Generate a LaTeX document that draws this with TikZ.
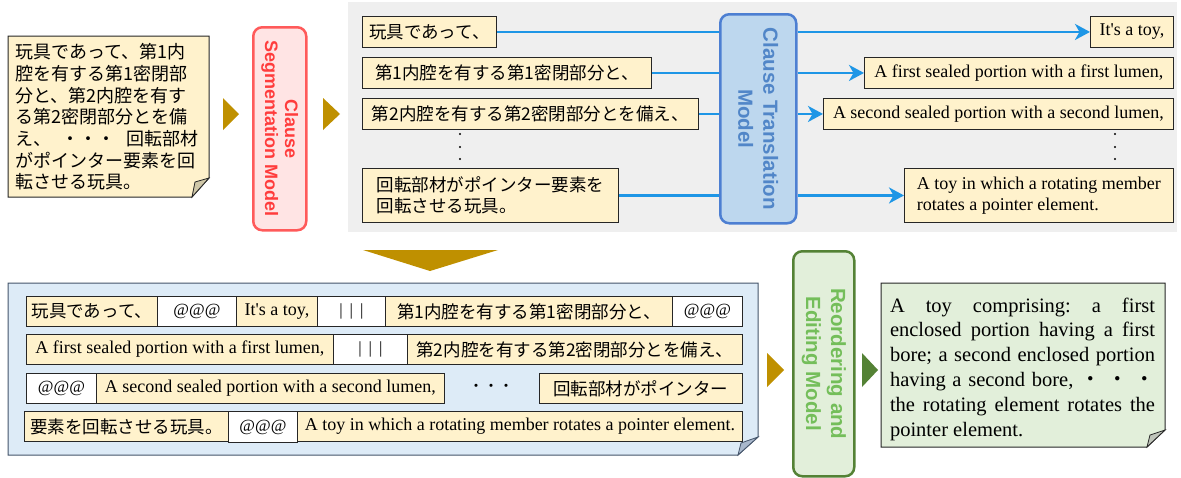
\documentclass[tikz,border=0pt]{standalone}
\usepackage{fontspec}
\setmainfont{Liberation Serif}
\newfontfamily\jpf{Noto Sans CJK JP}
\newfontfamily\sff{Liberation Sans}
\usetikzlibrary{arrows.meta}
\definecolor{beige}{HTML}{FFF2CC}
\definecolor{flapy}{HTML}{CFC7A8}
\definecolor{gold}{HTML}{BF9000}
\definecolor{bgg}{HTML}{EFEFEF}
\definecolor{redb}{HTML}{FF5A5A}
\definecolor{redf}{HTML}{FFE4E4}
\definecolor{redt}{HTML}{FF3C3C}
\definecolor{blub}{HTML}{4D7FD2}
\definecolor{bluf}{HTML}{BDD7EE}
\definecolor{blut}{HTML}{5186C8}
\definecolor{grnb}{HTML}{548235}
\definecolor{grnf}{HTML}{E2EFDA}
\definecolor{grnt}{HTML}{74BE5A}
\definecolor{flapg}{HTML}{BFC4BA}
\definecolor{panf}{HTML}{DDEBF7}
\definecolor{panb}{HTML}{44546A}
\definecolor{flapb}{HTML}{A9B8CC}
\definecolor{lineblue}{HTML}{1E96E6}
\tikzset{
  bx/.style={draw=black!85, line width=0.9pt, inner sep=0pt, anchor=north west, minimum height=31pt},
  yb/.style={bx, fill=beige},
  wb/.style={bx, fill=white},
  jt/.style={font=\jpf\fontsize{17.5}{21}\selectfont},
  et/.style={font=\fontsize{18}{21}\selectfont},
  attxt/.style={font=\fontsize{17}{21}\selectfont},
  mdl/.style={rounded corners=9pt, line width=2.5pt, anchor=north west, inner sep=0pt},
  lbl/.style={rotate=-90, align=center, inner sep=0pt},
  cl/.style={draw=lineblue, line width=2.6pt},
  cla/.style={cl, -{Stealth[length=15pt,width=16pt,inset=4.5pt]}},
  tri/.style={fill=gold},
}
\begin{document}
\frenchspacing
\begin{tikzpicture}[x=1pt,y=-1pt]
\useasboundingbox (0,0) rectangle (1181,477);
% grey background of the translation stage
\fill[bgg] (348,2) rectangle (1177,232);

% source note
\draw[fill=beige, draw=black!85, line width=1pt] (8,36) -- (209,36) -- (209,178) -- (192,197) -- (8,197) -- cycle;
\draw[fill=flapy, draw=black!85, line width=0.8pt] (192,197) .. controls (194,190) .. (195,182) -- (209,178) -- cycle;
\node[align=left, inner sep=0pt, font=\jpf\fontsize{18}{21.7}\selectfont] (src) at (107,117)
 {玩具であって、第1内\\腔を有する第1密閉部\\分と、第2内腔を有す\\る第2密閉部分とを備\\え、\hspace{0.6em}・・・\hspace{0.6em}回転部材\\がポインター要素を回\\転させる玩具。};

% arrows
\fill[tri] (223,98) -- (239,114) -- (223,130) -- cycle;
\fill[tri] (323,98) -- (340,114) -- (323,130) -- cycle;

% segmentation model
\node[mdl, draw=redb, fill=redf, minimum width=53pt, minimum height=203pt] (seg) at (252,26) {};
\node[lbl, text=redt, font=\sff\bfseries\fontsize{18}{20}\selectfont] (segl) at (seg.center) {Clause\\Segmentation Model};

% japanese clauses
\node[yb, jt, minimum width=134pt] (j1) at (362,16) {玩具であって、};
\node[yb, jt, minimum width=289pt] (j2) at (362,57) {第1内腔を有する第1密閉部分と、};
\node[yb, jt, minimum width=336pt] (j3) at (362,98) {第2内腔を有する第2密閉部分とを備え、};
\node[yb, jt, minimum width=256pt, minimum height=54pt, align=left] (j4) at (362,168) {回転部材がポインター要素を\\回転させる玩具。};
\fill (460,134) circle (1.1pt) (460,147) circle (1.1pt) (460,159) circle (1.1pt);

% translation model
\node[mdl, draw=blub, fill=bluf, minimum width=76pt, minimum height=209pt] (tm) at (719,13) {};
\node[lbl, text=blut, font=\sff\bfseries\fontsize{20.5}{25}\selectfont] (tml) at (tm.center) {Clause Translation\\Model};

% english clauses
\node[yb, et, minimum width=83pt] (e1) at (1090,16) {It\textquotesingle s a toy,};
\node[yb, et, minimum width=309pt] (e2) at (864,57) {A first sealed portion with a first lumen,};
\node[yb, et, minimum width=350pt] (e3) at (823,98) {A second sealed portion with a second lumen,};
\node[yb, et, minimum width=269pt, minimum height=54pt, align=left] (e4) at (904,168) {A toy in which a rotating member\\rotates a pointer element.};
\fill (1115,134) circle (1.1pt) (1115,147) circle (1.1pt) (1115,159) circle (1.1pt);

% connectors
\foreach \n in {1,2,3,4} {
  \draw[cl] (j\n.east) -- (j\n.east -| tm.west);
  \draw[cla] (tm.east |- e\n.west) -- (e\n.west);
}

% down arrow
\fill[tri] (363,250) -- (498,250) -- (430,271) -- cycle;

% merged panel
\draw[fill=panf, draw=panb, line width=1pt] (8,283) -- (758,283) -- (758,437) -- (738,455) -- (8,455) -- cycle;
\draw[fill=flapb, draw=panb, line width=0.8pt] (738,455) .. controls (740,449) .. (741,443) -- (758,437) -- cycle;

\node[yb, jt, minimum width=131pt, minimum height=30pt] (b11) at (26,296) {玩具であって、};
\node[wb, attxt, minimum width=79pt, minimum height=30pt] (b12) at (157,296) {@@@};
\node[yb, et, minimum width=81pt, minimum height=30pt] (b13) at (236,296) {It\textquotesingle s a toy,};
\node[wb, attxt, minimum width=68pt, minimum height=30pt] (b14) at (317,296) {|\hspace{7pt}|\hspace{7pt}|};
\node[yb, jt, minimum width=287pt, minimum height=30pt] (b15) at (385,296) {第1内腔を有する第1密閉部分と、};
\node[wb, attxt, minimum width=70pt, minimum height=30pt] (b16) at (672,296) {@@@};

\node[yb, et, minimum width=307pt, minimum height=30pt] (b21) at (26,334) {A first sealed portion with a first lumen,};
\node[wb, attxt, minimum width=74pt, minimum height=30pt] (b22) at (333,334) {|\hspace{7pt}|\hspace{7pt}|};
\node[yb, jt, minimum width=335pt, minimum height=30pt] (b23) at (407,334) {第2内腔を有する第2密閉部分とを備え、};

\node[wb, attxt, minimum width=70pt, minimum height=30pt] (b31) at (26,373) {@@@};
\node[yb, et, minimum width=348pt, minimum height=30pt] (b32) at (96,373) {A second sealed portion with a second lumen,};
\node[inner sep=0pt, font=\jpf\fontsize{15}{15}\selectfont] (b3d) at (491,388) {・・・};
\node[yb, jt, minimum width=203pt, minimum height=30pt] (b33) at (539,373) {回転部材がポインター};

\node[yb, jt, minimum width=204pt, minimum height=30pt] (b41) at (24,411) {要素を回転させる玩具。};
\node[wb, attxt, minimum width=69pt, minimum height=31pt] (b42) at (228,411) {@@@};
\node[yb, et, minimum width=445pt, minimum height=30pt] (b43) at (297,411) {A toy in which a rotating member rotates a pointer element.};

% arrows to and from reordering model
\fill[tri] (767,353) -- (784,370) -- (767,387) -- cycle;
\node[mdl, draw=grnb, fill=grnf, minimum width=61pt, minimum height=225pt] (rm) at (792,250) {};
\node[lbl, text=grnt, font=\sff\bfseries\fontsize{20.5}{25}\selectfont] (rml) at (rm.center) {Reordering and\\Editing Model};
\fill[grnb] (862,353) -- (878,370) -- (862,387) -- cycle;

% output note
\draw[fill=grnf, draw=black!85, line width=1pt] (881,283) -- (1165,283) -- (1165,430) -- (1147,447) -- (881,447) -- cycle;
\draw[fill=flapg, draw=black!85, line width=0.8pt] (1147,447) .. controls (1149,441) .. (1150,435) -- (1165,430) -- cycle;
\node[text width=265pt, align=justify, inner sep=0pt, font=\fontsize{20.5}{24.8}\selectfont] (out) at (1022.5,369)
 {A toy comprising: a first\linebreak enclosed portion having a first\linebreak bore; a second enclosed portion\linebreak having a second bore, {\jpf ・} {\jpf ・} {\jpf ・}\linebreak the rotating element rotates the\linebreak pointer element.};
\end{tikzpicture}
\end{document}
